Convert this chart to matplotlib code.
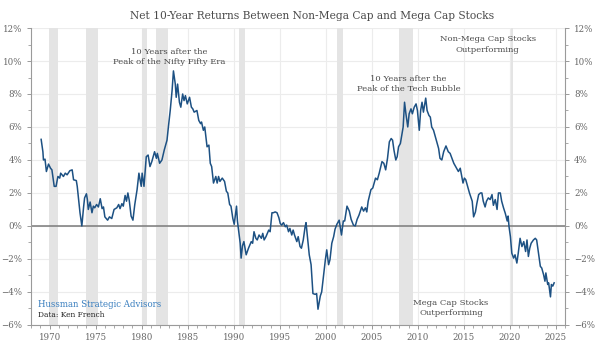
import matplotlib
matplotlib.use("Agg")
import matplotlib.pyplot as plt
from matplotlib.ticker import MultipleLocator, FuncFormatter

plt.rcParams["font.family"] = ["DejaVu Serif"]

# (decimal year, net 10-year return in %)
years = [
    1969.08, 1969.27, 1969.33, 1969.5, 1969.65, 1969.88, 1970.1, 1970.25, 1970.5, 1970.7,
    1970.9, 1971.1, 1971.2, 1971.5, 1971.7, 1971.9, 1972.2, 1972.45, 1972.6, 1972.9,
    1973.0, 1973.15, 1973.3, 1973.5, 1973.7, 1973.8, 1974.0, 1974.1, 1974.2, 1974.4,
    1974.6, 1974.75, 1974.9, 1975.1, 1975.3, 1975.5, 1975.7, 1975.85, 1976.0, 1976.3,
    1976.5, 1976.75, 1977.0, 1977.3, 1977.5, 1977.65, 1977.85, 1978.0, 1978.2, 1978.35,
    1978.5, 1978.65, 1978.85, 1979.05, 1979.25, 1979.5, 1979.7, 1979.95, 1980.05, 1980.25,
    1980.5, 1980.7, 1980.9, 1981.1, 1981.4, 1981.6, 1981.7, 1981.95, 1982.2, 1982.45,
    1982.75, 1982.9, 1983.1, 1983.3, 1983.45, 1983.65, 1983.75, 1983.9, 1984.1, 1984.25,
    1984.45, 1984.6, 1984.75, 1984.95, 1985.2, 1985.4, 1985.55, 1985.7, 1986.0, 1986.2,
    1986.4, 1986.5, 1986.7, 1986.85, 1987.1, 1987.3, 1987.45, 1987.6, 1987.8, 1988.05,
    1988.2, 1988.35, 1988.5, 1988.75, 1989.0, 1989.2, 1989.35, 1989.55, 1989.7, 1989.9,
    1990.05, 1990.3, 1990.4, 1990.55, 1990.7, 1990.8, 1990.95, 1991.1, 1991.35, 1991.6,
    1991.9, 1992.05, 1992.2, 1992.4, 1992.55, 1992.75, 1993.0, 1993.15, 1993.3, 1993.5,
    1993.8, 1993.95, 1994.15, 1994.3, 1994.5, 1994.7, 1994.9, 1995.05, 1995.2, 1995.4,
    1995.6, 1995.75, 1995.95, 1996.1, 1996.3, 1996.45, 1996.6, 1996.85, 1997.0, 1997.2,
    1997.35, 1997.55, 1997.75, 1997.85, 1998.0, 1998.2, 1998.4, 1998.6, 1998.85, 1999.0,
    1999.15, 1999.4, 1999.55, 1999.75, 1999.95, 2000.1, 2000.3, 2000.45, 2000.65, 2000.85,
    2001.0, 2001.2, 2001.45, 2001.7, 2001.9, 2002.05, 2002.3, 2002.55, 2002.75, 2003.0,
    2003.2, 2003.4, 2003.6, 2003.9, 2004.1, 2004.3, 2004.45, 2004.6, 2004.9, 2005.1,
    2005.4, 2005.6, 2005.8, 2006.1, 2006.3, 2006.5, 2006.7, 2006.9, 2007.1, 2007.25,
    2007.4, 2007.6, 2007.75, 2007.9, 2008.1, 2008.4, 2008.55, 2008.7, 2008.9, 2009.05,
    2009.25, 2009.4, 2009.6, 2009.8, 2009.95, 2010.15, 2010.3, 2010.45, 2010.6, 2010.85,
    2011.0, 2011.2, 2011.35, 2011.5, 2011.7, 2011.9, 2012.05, 2012.25, 2012.4, 2012.6,
    2012.8, 2013.05, 2013.3, 2013.5, 2013.9, 2014.1, 2014.4, 2014.6, 2014.9, 2015.05,
    2015.2, 2015.4, 2015.6, 2015.9, 2016.05, 2016.25, 2016.4, 2016.6, 2016.8, 2016.95,
    2017.1, 2017.3, 2017.45, 2017.65, 2017.85, 2018.05, 2018.2, 2018.4, 2018.6, 2018.75,
    2018.95, 2019.1, 2019.3, 2019.5, 2019.7, 2019.8, 2019.9, 2020.05, 2020.2, 2020.4,
    2020.55, 2020.75, 2020.9, 2021.1, 2021.3, 2021.5, 2021.7, 2021.85, 2022.0, 2022.15,
    2022.3, 2022.55, 2022.75, 2022.9, 2023.1, 2023.3, 2023.45, 2023.65, 2023.8, 2023.9,
    2024.1, 2024.2, 2024.4, 2024.5, 2024.65, 2024.8,
]
net_ret = [
    5.25, 4.5, 4.0, 4.05, 3.3, 3.75, 3.5, 3.4, 2.4, 2.4,
    3.0, 2.9, 3.2, 3.0, 3.2, 3.1, 3.35, 3.4, 2.8, 2.75,
    2.4, 1.6, 0.8, 0.0, 1.2, 1.7, 1.95, 1.6, 1.0, 1.45,
    0.8, 1.2, 1.1, 1.3, 1.15, 1.65, 1.05, 1.15, 0.55, 0.35,
    0.55, 0.45, 1.0, 1.1, 1.3, 1.05, 1.35, 1.2, 1.85, 1.5,
    2.0, 1.55, 0.6, 0.35, 1.3, 2.2, 3.2, 2.4, 3.2, 2.4,
    4.2, 4.3, 3.6, 3.9, 4.5, 4.1, 4.4, 3.8, 4.0, 4.6,
    5.2, 6.0, 7.0, 8.2, 9.4, 8.6, 7.8, 8.6, 7.5, 7.2,
    8.0, 7.6, 7.9, 7.4, 7.8, 7.2, 7.1, 6.9, 7.0, 6.4,
    6.2, 6.3, 5.8, 6.0, 4.8, 4.9, 3.8, 3.6, 2.6, 3.0,
    2.6, 3.0, 2.7, 2.9, 2.7, 2.1, 2.0, 1.3, 1.2, 0.45,
    0.1, 1.2, 0.3, -0.35, -1.05, -1.95, -1.2, -0.95, -1.75, -1.35,
    -0.95, -1.05, -0.35, -0.75, -0.85, -0.55, -0.75, -0.45, -0.85, -0.65,
    -0.25, -0.35, 0.8, 0.8, 0.85, 0.8, 0.5, 0.15, 0.05, 0.2,
    -0.05, 0.05, -0.35, -0.15, -0.55, -0.25, -0.55, -0.95, -0.65, -1.25,
    -1.35, -0.85, -0.05, 0.2, -0.65, -1.75, -2.35, -4.1, -4.15, -4.1,
    -5.05, -4.25, -4.0, -3.05, -2.05, -1.45, -2.35, -2.05, -1.05, -0.65,
    -0.2, 0.1, 0.35, -0.55, 0.3, 0.3, 1.2, 0.9, 0.4, 0.05,
    0.0, 0.4, 0.65, 1.15, 0.9, 1.1, 0.85, 1.5, 2.2, 2.3,
    2.9, 2.8, 3.2, 3.9, 3.8, 3.4, 4.1, 5.1, 5.3, 5.2,
    4.6, 4.0, 4.2, 4.8, 5.0, 6.0, 7.5, 6.8, 6.0, 6.8,
    7.1, 6.8, 7.2, 7.4, 7.0, 5.8, 7.0, 7.5, 6.9, 7.75,
    7.0, 6.7, 6.6, 6.0, 5.8, 5.4, 5.1, 4.7, 4.1, 4.0,
    4.5, 4.85, 4.5, 4.4, 3.8, 3.6, 3.3, 3.5, 2.6, 2.9,
    2.8, 2.4, 2.0, 1.5, 0.55, 0.85, 1.35, 1.9, 2.0, 2.0,
    1.5, 1.15, 1.5, 1.7, 1.6, 1.9, 1.25, 1.6, 1.0, 2.0,
    2.0, 1.5, 1.1, 0.75, 0.3, 0.6, -0.05, -0.65, -1.65, -1.95,
    -1.75, -2.25, -1.65, -0.75, -1.25, -0.95, -1.55, -0.85, -1.85, -1.35,
    -1.05, -0.85, -0.75, -0.85, -1.65, -2.45, -2.55, -2.95, -3.35, -2.85,
    -3.55, -3.45, -4.3, -3.55, -3.65, -3.45,
]

# recession periods (shaded)
rec_start = [1969.95, 1973.9, 1980.0, 1981.55, 1990.6, 2001.2, 2007.95, 2020.1]
rec_end = [1970.9, 1975.25, 1980.55, 1982.9, 1991.25, 2001.85, 2009.45, 2020.35]

TXT = "#4a4a4a"
GRID = "#ececec"

fig = plt.figure(figsize=(6.0, 3.46), dpi=100)
ax = fig.add_axes([0.052, 0.061, 0.89, 0.858])

for a, b in zip(rec_start, rec_end):
    ax.axvspan(a, b, color="#e4e4e4", lw=0, zorder=1)

ax.axhline(0, color="#7a7a7a", lw=1.1, zorder=2)
ax.plot(years, net_ret, color="#1d5183", lw=1.1, zorder=3)

ax.set_xlim(1968.0, 2026.0)
ax.set_ylim(-6, 12)
ax.xaxis.set_major_locator(MultipleLocator(5))
ax.xaxis.set_minor_locator(MultipleLocator(1))
ax.yaxis.set_major_locator(MultipleLocator(2))
ax.yaxis.set_minor_locator(MultipleLocator(1))
ax.yaxis.set_major_formatter(FuncFormatter(lambda v, p: f"{v:.0f}%".replace("-", "\u2212")))
ax.grid(True, which="major", color=GRID, lw=0.8, zorder=0)
ax.set_axisbelow(True)

ax.spines["top"].set_visible(False)
for s in ("left", "right", "bottom"):
    ax.spines[s].set_color("#9a9a9a")
    ax.spines[s].set_linewidth(0.8)

ax.tick_params(axis="both", which="both", colors="#9a9a9a", labelcolor="#666666",
               labelsize=6.2, direction="out")
ax.tick_params(axis="y", which="both", left=True, right=True, labelleft=True, labelright=True)
ax.tick_params(which="major", length=3, width=0.7)
ax.tick_params(which="minor", length=2, width=0.6)
ax.tick_params(axis="x", pad=3)

fig.text(0.52, 0.955, "Net 10-Year Returns Between Non-Mega Cap and Mega Cap Stocks",
         ha="center", va="center", fontsize=7.7, color=TXT)

ax.text(1983.0, 10.25, "10 Years after the\nPeak of the Nifty Fifty Era", ha="center", va="center",
        fontsize=6.1, color=TXT, linespacing=1.35)
ax.text(2009.0, 8.6, "10 Years after the\nPeak of the Tech Bubble", ha="center", va="center",
        fontsize=6.1, color=TXT, linespacing=1.35)
ax.text(2017.6, 11.0, "Non-Mega Cap Stocks\nOutperforming", ha="center", va="center",
        fontsize=6.1, color=TXT, linespacing=1.35)
ax.text(2013.6, -5.0, "Mega Cap Stocks\nOutperforming", ha="center", va="center",
        fontsize=6.1, color=TXT, linespacing=1.35)
ax.text(1968.7, -4.75, "Hussman Strategic Advisors", ha="left", va="center",
        fontsize=6.2, color="#3a7fbf")
ax.text(1968.7, -5.4, "Data: Ken French", ha="left", va="center",
        fontsize=5.4, color="#222222")

fig.savefig("out.png", dpi=100)
